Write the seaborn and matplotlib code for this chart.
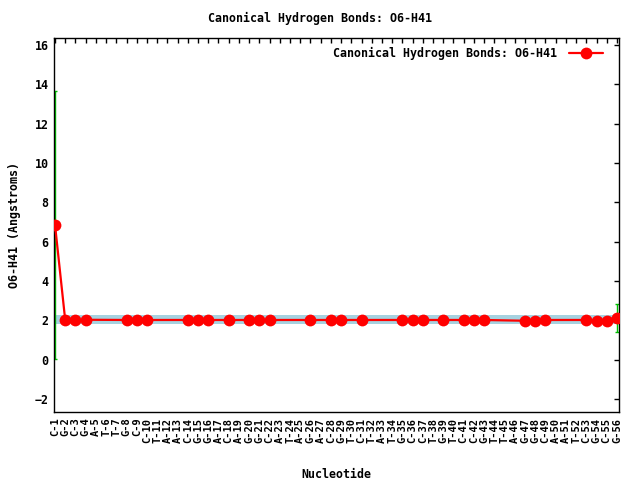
import pandas as pd
import matplotlib
matplotlib.use("Agg")
import matplotlib.pyplot as plt
import seaborn as sns

# nucleotide labels along the x axis
nucleotides = ["C-1", "G-2", "C-3", "G-4", "A-5", "T-6", "T-7", "G-8", "C-9", "C-10",
               "T-11", "A-12", "A-13", "C-14", "G-15", "G-16", "A-17", "C-18", "A-19", "G-20",
               "G-21", "C-22", "A-23", "T-24", "A-25", "G-26", "A-27", "C-28", "G-29", "T-30",
               "C-31", "T-32", "A-33", "T-34", "G-35", "C-36", "C-37", "T-38", "G-39", "T-40",
               "C-41", "C-42", "G-43", "T-44", "T-45", "A-46", "G-47", "G-48", "C-49", "A-50",
               "A-51", "T-52", "C-53", "G-54", "C-55", "G-56"]

# nucleotides that have an O6-H41 bond, with mean distance and spread
bonded = ["C-1", "G-2", "C-3", "G-4", "G-8", "C-9", "C-10", "C-14", "G-15", "G-16",
          "C-18", "G-20", "G-21", "C-22", "G-26", "C-28", "G-29", "C-31", "G-35", "C-36",
          "C-37", "G-39", "C-41", "C-42", "G-43", "G-47", "G-48", "C-49", "C-53", "G-54",
          "C-55", "G-56"]
distance = [6.85, 2.00, 2.00, 2.03, 2.02, 2.00, 2.02, 2.02, 2.00, 2.02,
            2.02, 2.02, 2.00, 2.02, 2.02, 2.02, 2.02, 2.02, 2.02, 2.02,
            2.02, 2.02, 2.02, 2.00, 2.02, 1.98, 1.98, 2.02, 2.02, 1.98,
            1.98, 2.12]
spread = [6.80, 0.05, 0.05, 0.05, 0.05, 0.05, 0.05, 0.12, 0.05, 0.05,
          0.05, 0.05, 0.05, 0.05, 0.05, 0.05, 0.05, 0.05, 0.05, 0.05,
          0.05, 0.05, 0.05, 0.05, 0.05, 0.05, 0.05, 0.05, 0.05, 0.05,
          0.05, 0.71]

# reference range for a canonical bond
band_low, band_high = 1.8, 2.25

df = pd.DataFrame({"nucleotide": bonded, "distance": distance, "spread": spread})
df["pos"] = df["nucleotide"].map({n: i for i, n in enumerate(nucleotides)})

sns.set_style("white")
font = ["DejaVu Sans Mono"]
fs = 8.4
plt.rcParams["font.family"] = font
plt.rcParams["font.weight"] = "bold"
plt.rcParams["font.size"] = fs
plt.rcParams["text.color"] = "black"
plt.rcParams["axes.labelcolor"] = "black"

fig = plt.figure(figsize=(6.4, 4.8), dpi=100)
ax = fig.add_axes([54 / 640, 68 / 480, 565 / 640, 374 / 480])

ax.axhspan(band_low, band_high, color="#a6d2e0", lw=0, zorder=1)
ax.errorbar(df["pos"], df["distance"], yerr=df["spread"], fmt="none",
            ecolor="#00c000", elinewidth=1, capsize=1.6, capthick=1, zorder=2)
sns.lineplot(data=df, x="pos", y="distance", color="red", lw=1.6, marker="o",
             markersize=8.5, markeredgewidth=0, ax=ax, zorder=3,
             label="Canonical Hydrogen Bonds: O6-H41")

ax.set_xlim(-0.1, 55.2)
ax.set_ylim(-2.66, 16.36)
ax.set_xticks(range(len(nucleotides)))
ax.set_xticklabels(nucleotides, rotation=90, fontsize=7.5)
ax.set_yticks(range(-2, 17, 2))
ax.tick_params(direction="in", length=3.5, width=1, top=True, right=True,
               colors="black", pad=4)
ax.tick_params(axis="y", labelsize=fs)
for s in ax.spines.values():
    s.set_color("black")
    s.set_linewidth(1)

fig.text(0.5, 1 - 18 / 480, "Canonical Hydrogen Bonds: O6-H41", ha="center", va="center",
         fontsize=fs, fontweight="bold", color="black")
ax.set_xlabel("Nucleotide", fontsize=fs, fontweight="bold", labelpad=18)
ax.set_ylabel("O6-H41 (Angstroms)", fontsize=fs, fontweight="bold", labelpad=10)

ax.legend(loc="upper right", bbox_to_anchor=(0.977, 0.985), frameon=False,
          markerfirst=False, handlelength=2.9, borderaxespad=0, borderpad=0.3,
          handletextpad=1.0, prop={"family": font, "weight": "bold", "size": fs})

plt.savefig("out.png", dpi=100)
